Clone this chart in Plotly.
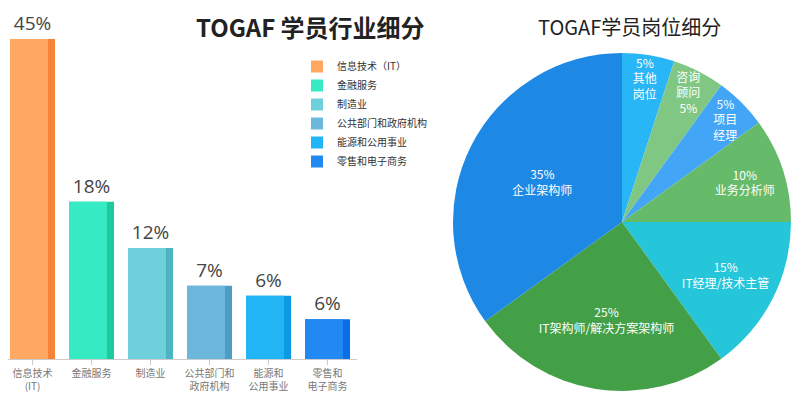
import plotly.graph_objects as go

# left chart: industry split
industries = ['信息技术（IT）', '金融服务', '制造业', '公共部门和政府机构', '能源和公用事业', '零售和电子商务']
tick_text = ['信息技术<br>(IT)', '金融服务', '制造业', '公共部门和<br>政府机构', '能源和<br>公用事业', '零售和<br>电子商务']
share_text = ['45%', '18%', '12%', '7%', '6%', '6%']
# bar heights as drawn in the picture (they are not to scale with the labels)
bar_height = [45, 22.1, 15.6, 10.3, 8.9, 5.6]

# right chart: role split
roles = ['其他岗位', '咨询顾问', '项目经理', '业务分析师', 'IT经理/技术主管', 'IT架构师/解决方案架构师', '企业架构师']
role_share = [5, 5, 5, 10, 15, 25, 35]
role_text = ['5%<br>其他<br>岗位', '咨询<br>顾问<br>5%', '5%<br>项目<br>经理', '10%<br>业务分析师',
             '15%<br>IT经理/技术主管', '25%<br>IT架构师/解决方案架构师', '35%<br>企业架构师']

bar_colors = ['#FFA862', '#36EBC3', '#6DD0DA', '#6BB8DC', '#22B5F5', '#2389F2']
edge_colors = ['#F78436', '#1DCB9E', '#4DB5C2', '#4C9DC6', '#0B9BE3', '#0A6EE6']
pie_colors = ['#29B6F6', '#81C784', '#42A5F5', '#66BB6A', '#26C6DA', '#43A047', '#1E88E5']

cjk = 'Noto Sans CJK SC'
# page body has an 8px margin, so the figure is sized to fit the window
W, H = 792, 392

fig = go.Figure()

for i, name in enumerate(industries):
    # full bar in the darker edge colour, carries the label
    fig.add_trace(go.Bar(
        x=[i], y=[bar_height[i]], width=0.763, offset=-0.381,
        marker=dict(color=edge_colors[i], line=dict(width=0)),
        text=[share_text[i]], textposition='outside', cliponaxis=False,
        textfont=dict(family='Open Sans', size=19, color='#444'),
        showlegend=False, hoverinfo='skip'))
    # lighter front face
    fig.add_trace(go.Bar(
        x=[i], y=[bar_height[i]], width=0.643, offset=-0.381, name=name,
        marker=dict(color=bar_colors[i], line=dict(width=0)),
        showlegend=True))

fig.add_trace(go.Pie(
    labels=roles, values=role_share, text=role_text, textinfo='text',
    sort=False, direction='clockwise', rotation=0,
    marker=dict(colors=pie_colors, line=dict(width=0)),
    textposition='inside', insidetextorientation='horizontal',
    textfont=dict(family=cjk, size=12, color='white'),
    domain=dict(x=[445 / W, 783 / W], y=[8 / H, 348 / H]),
    showlegend=False))

fig.update_layout(
    width=W, height=H,
    margin=dict(l=0, r=0, t=0, b=0, autoexpand=False),
    paper_bgcolor='white', plot_bgcolor='white',
    barmode='overlay',
    font=dict(family=cjk, color='#444'),
    uniformtext=dict(minsize=12, mode='show'),
    xaxis=dict(domain=[0, 349 / W], range=[-0.415, 5.5], automargin=False,
               tickmode='array', tickvals=list(range(6)), ticktext=tick_text,
               tickson='boundaries', ticks='outside', ticklen=5, tickcolor='#ccc',
               showline=True, linecolor='#ccc', linewidth=1, showgrid=False,
               tickfont=dict(family=cjk, size=10, color='#777'), fixedrange=True),
    yaxis=dict(domain=[41 / H, 1], range=[0, 49.36], visible=False, automargin=False),
    legend=dict(x=289 / W, y=1 - 44 / H, xanchor='left', yanchor='top',
                font=dict(family=cjk, size=10, color='#333'),
                bgcolor='rgba(0,0,0,0)', tracegroupgap=2),
    annotations=[
        dict(text='<b>TOGAF 学员行业细分</b>', x=302 / W, y=1 - 19 / H,
             xanchor='center', yanchor='middle',
             xref='paper', yref='paper', showarrow=False,
             font=dict(family=cjk, size=24, color='#222')),
        dict(text='TOGAF学员岗位细分', x=621 / W, y=1 - 19 / H,
             xanchor='center', yanchor='middle',
             xref='paper', yref='paper', showarrow=False,
             font=dict(family=cjk, size=20, color='#222')),
    ],
)

fig.write_html('out.html')
